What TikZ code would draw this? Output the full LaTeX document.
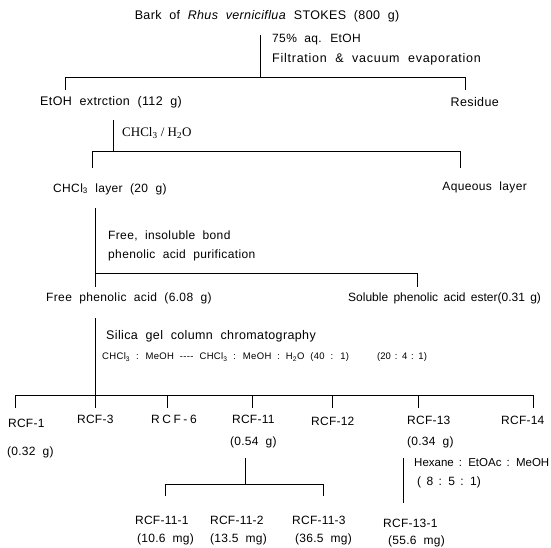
\documentclass[tikz,border=0pt]{standalone}
\usepackage{fontspec}
\setmainfont[LetterSpace=3,WordSpace=2]{Liberation Sans}
\newfontfamily\fwide[LetterSpace=6,WordSpace=2]{Liberation Sans}
\newfontfamily\fplain[WordSpace=1.6]{Liberation Sans}
\newfontfamily\rcffont[LetterSpace=2,WordSpace=2]{Liberation Sans}
\newfontfamily\fnarrow[LetterSpace=2.5,WordSpace=0.7]{Liberation Sans}
\newfontfamily\smfont[LetterSpace=3.5,WordSpace=2]{Liberation Sans}
\newfontfamily\fsmall[LetterSpace=0.5,WordSpace=1.4]{Liberation Sans}
\newfontfamily\serifa{Liberation Serif}
\begin{document}
\begin{tikzpicture}[x=1pt,y=-1pt,
  lbl/.style={inner sep=0pt, anchor=west, font=\fontsize{12}{14}\selectfont},
  blbl/.style={inner sep=0pt, anchor=west, font=\fontsize{12.5}{14}\selectfont},
  wlbl/.style={inner sep=0pt, anchor=west, font=\fwide\fontsize{12.5}{14}\selectfont},
  plbl/.style={inner sep=0pt, anchor=west, font=\fplain\fontsize{12}{14}\selectfont},
  rcf/.style={inner sep=0pt, anchor=west, font=\rcffont\fontsize{12}{14}\selectfont},
  sm/.style={inner sep=0pt, anchor=west, font=\smfont\fontsize{9.5}{11}\selectfont},
  ln/.style={line width=0.9pt}]
\useasboundingbox (0,0) rectangle (551,548);
\fill[white] (0,0) rectangle (551,548);

% level 1
\node[blbl,anchor=center] (bark) at (267,16) {Bark of \textit{Rhus verniciflua} STOKES (800 g)};
\coordinate (v1top) at (260,35);
\coordinate (b1) at (260,77);
\coordinate (b1l) at (65,77);
\coordinate (b1r) at (465,77);
\coordinate (t1l) at (65,90);
\coordinate (t1r) at (465,90);
\node[lbl] (c1a) at (272,40) {75\% aq. EtOH};
\node[wlbl] (c1b) at (272,59) {Filtration \& vacuum evaporation};
\node[blbl] (etoh) at (40,102) {EtOH extrction (112 g)};
\node[blbl,anchor=east] (res) at (499,102) {Residue};
\draw[ln] (v1top) -- (b1);
\draw[ln] (t1l) -- (b1l) -- (b1r) -- (t1r);

% level 2
\coordinate (v2top) at (113,120);
\coordinate (b2) at (113,151);
\coordinate (b2l) at (92,151);
\coordinate (b2r) at (460,151);
\coordinate (t2l) at (92,168);
\coordinate (t2r) at (460,168);
\node[inner sep=0pt,anchor=west,font=\serifa\fontsize{13}{15}\selectfont] (c2) at (122,133) {CHCl\textsubscript{3} / H\textsubscript{2}O};
\node[lbl] (chl) at (53,189) {CHCl\textsubscript{3} layer (20 g)};
\node[lbl,anchor=east] (aq) at (527,187) {Aqueous layer};
\draw[ln] (v2top) -- (b2);
\draw[ln] (t2l) -- (b2l) -- (b2r) -- (t2r);

% level 3
\coordinate (v3top) at (95,208);
\coordinate (b3) at (95,273);
\coordinate (b3r) at (417,273);
\coordinate (t3l) at (95,287);
\coordinate (t3r) at (417,287);
\node[lbl] (c3a) at (108,236) {Free, insoluble bond};
\node[lbl] (c3b) at (108,255) {phenolic acid purification};
\node[lbl] (free) at (46,298) {Free phenolic acid (6.08 g)};
\node[plbl] (sol) at (348,298) {Soluble phenolic acid ester(0.31 g)};
\draw[ln] (v3top) -- (t3l);
\draw[ln] (b3) -- (b3r) -- (t3r);

% level 4
\coordinate (v4top) at (95,318);
\coordinate (b4) at (95,395);
\coordinate (b4l) at (15,395);
\coordinate (b4r) at (533,395);
\node[blbl] (c4a) at (106,336) {Silica gel column chromatography};
\node[sm] (c4b) at (102,357) {CHCl\textsubscript{3} : MeOH \mbox{-{}-{}-{}-} CHCl\textsubscript{3} : MeOH : H\textsubscript{2}O (40 : 1)};
\node[inner sep=0pt,anchor=west,font=\fsmall\fontsize{9.5}{11}\selectfont] (c4c) at (377,357) {(20 : 4 : 1)};
\draw[ln] (v4top) -- (b4);
\draw[ln] (b4l) -- (b4r);
\foreach \x/\n in {15/a,95/b,167/c,252/d,332/e,418/f,533/g}{
  \coordinate (k\n) at (\x,395);
  \coordinate (e\n) at (\x,408);
  \draw[ln] (k\n) -- (e\n);
}
\node[rcf] (r1) at (8,423) {RCF-1};
\node[rcf] (r1w) at (7,452) {(0.32 g)};
\node[rcf] (r3) at (77,419) {RCF-3};
\node[inner sep=0pt,anchor=west,font=\fnarrow\fontsize{12}{14}\selectfont] (r6) at (151,419) {R C F - 6};
\node[rcf] (r11) at (232,419) {RCF-11};
\node[rcf] (r11w) at (230,442) {(0.54 g)};
\node[rcf] (r12) at (311,421) {RCF-12};
\node[rcf] (r13) at (407,420) {RCF-13};
\node[rcf] (r13w) at (407,442) {(0.34 g)};
\node[rcf] (r14) at (501,420) {RCF-14};

% RCF-11 subtree
\coordinate (v5top) at (245,458);
\coordinate (b5) at (245,484);
\coordinate (b5l) at (165,484);
\coordinate (b5r) at (323,484);
\coordinate (t5l) at (165,496);
\coordinate (t5r) at (323,496);
\draw[ln] (v5top) -- (b5);
\draw[ln] (t5l) -- (b5l) -- (b5r) -- (t5r);
\node[rcf] (s1) at (135,520) {RCF-11-1};
\node[rcf] (s1w) at (137,539) {(10.6 mg)};
\node[rcf] (s2) at (210,520) {RCF-11-2};
\node[rcf] (s2w) at (210,539) {(13.5 mg)};
\node[rcf] (s3) at (292,520) {RCF-11-3};
\node[rcf] (s3w) at (295,539) {(36.5 mg)};

% RCF-13 subtree
\coordinate (v6top) at (403,458);
\coordinate (v6bot) at (403,503);
\draw[ln] (v6top) -- (v6bot);
\node[inner sep=0pt,anchor=west,font=\fplain\fontsize{11.5}{14}\selectfont] (c6a) at (414,463) {Hexane : EtOAc : MeOH};
\node[plbl] (c6b) at (417,482) {( 8 : 5 : 1)};
\node[rcf] (t1) at (383,523) {RCF-13-1};
\node[rcf] (t1w) at (388,541) {(55.6 mg)};
\end{tikzpicture}
\end{document}
